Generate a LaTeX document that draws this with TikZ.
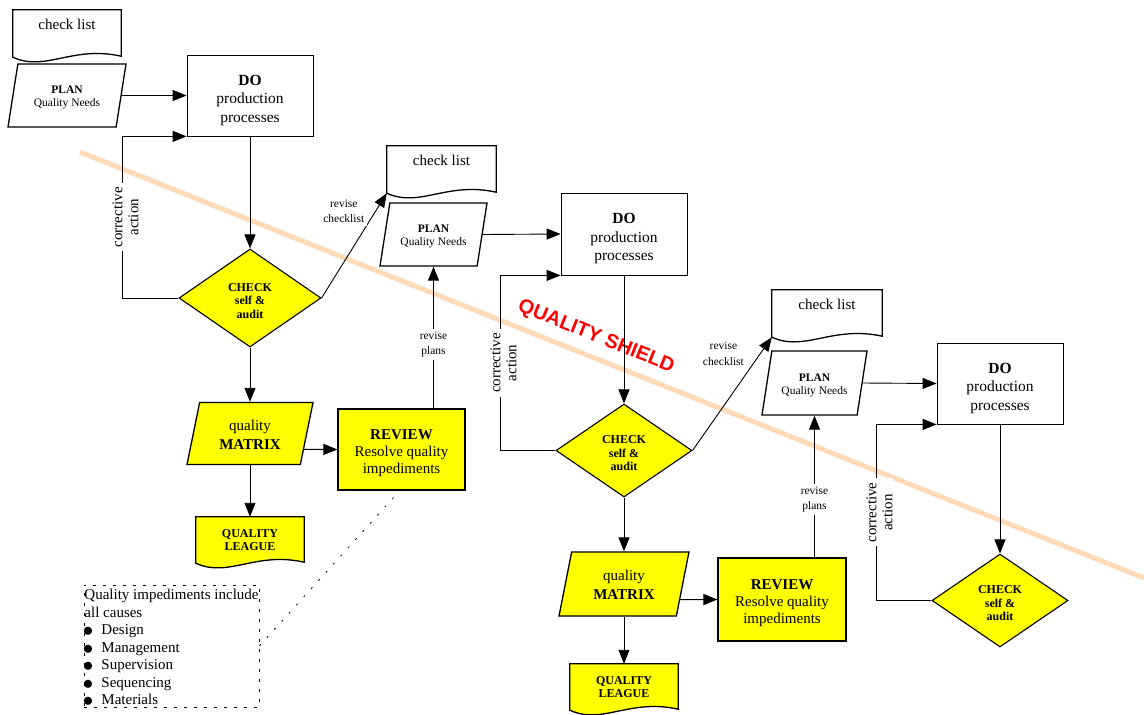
\documentclass[tikz,border=0pt]{standalone}
\usepackage{fontspec}
\setmainfont{Liberation Serif}
\newfontfamily\shieldfont{Liberation Sans}
\usepackage{graphicx}
\usetikzlibrary{arrows.meta, shapes.geometric, calc}
\definecolor{peachband}{RGB}{255,218,185}
\definecolor{qyellow}{RGB}{255,255,0}
\definecolor{shieldred}{RGB}{255,0,0}
\pgfdeclarelayer{bg}
\pgfsetlayers{bg,main}
% Dokument-Symbol (gewellter Rand) hinter Knoten #1
\newcommand\docshape[2]{%
  \begin{pgfonlayer}{bg}
    \draw[line width=1.3pt, fill=#2] (#1.north west) -- (#1.north east)
      -- ($(#1.south east)+(0,-6)$)
      .. controls ($(#1.south west)!0.55!(#1.south east)+(0,-17)$) and ($(#1.south west)!0.3!(#1.south east)+(0,10)$)
      .. ($(#1.south west)+(0,-5)$) -- cycle;
  \end{pgfonlayer}
  \coordinate (#1-tip) at ($(#1.south west)+(0,-5)$);}
\newcommand\qbul{\makebox[17pt][l]{\hspace{-1.5pt}\raisebox{-1.9pt}{\scalebox{1.45}{$\bullet$}}}}

\begin{document}
\begin{tikzpicture}[x=1pt, y=-1pt,
        >={Triangle[length=14pt,width=11pt]},   %Pfeilspitzen
        every node/.style={inner sep=0pt},
        conn/.style={->, line width=0.9pt},
        doc/.style={minimum width=108pt, minimum height=52pt, font=\fontsize{15}{17.5}\selectfont},
        listdoc/.style={doc, text depth=24pt},
        leaguedoc/.style={doc, minimum height=51pt, align=center, font=\bfseries\fontsize{12}{13}\selectfont, execute at end node={\rule[-4pt]{0pt}{4pt}}},
        dobox/.style={draw, line width=0.8pt, minimum width=126pt, minimum height=81pt, align=center, font=\fontsize{15.5}{18.5}\selectfont, execute at begin node={\rule{0pt}{57pt}}},
        revbox/.style={draw, fill=qyellow, line width=1.1pt, minimum width=128pt, minimum height=82pt, align=center, font=\fontsize{15}{17}\selectfont, execute at begin node={\rule{0pt}{50.9pt}}},
        planbox/.style={trapezium, trapezium left angle=70, trapezium right angle=110, trapezium stretches body, draw, fill=white, line width=1.3pt, minimum width=106pt, minimum height=63pt, align=center, font=\fontsize{11.5}{13}\selectfont, execute at begin node={\rule{0pt}{24.6pt}}},
        mtxbox/.style={planbox, trapezium left angle=68, trapezium right angle=112, fill=qyellow, minimum width=128pt, font=\fontsize{15}{19}\selectfont, execute at begin node={\rule{0pt}{31.3pt}}},
        chkbox/.style={diamond, draw, fill=qyellow, line width=1.1pt, minimum width=136pt, minimum height=93pt, align=center, font=\bfseries\fontsize{12}{13.5}\selectfont, execute at begin node={\rule{0pt}{40.9pt}}},
        lbl/.style={fill=white, inner sep=3pt, align=center, font=\fontsize{11.5}{15.5}\selectfont},
        corr/.style={fill=white, inner xsep=4pt, inner ysep=1pt, xshift=3pt, rotate=90, align=center, font=\fontsize{15}{16}\selectfont},
        notebox/.style={draw, line width=0.8pt, dash pattern=on 3pt off 7pt, minimum width=175pt, minimum height=122pt, align=left, font=\fontsize{15}{17.5}\selectfont, execute at begin node={\rule{0pt}{119.3pt}}}]
        \useasboundingbox (0,0) rectangle (1144,715);
        % Schild-Band
        \draw[peachband, line width=5pt] (80,152) -- (1144,578);
        \node[rotate=-22, text=shieldred, font=\shieldfont\bfseries\fontsize{20}{24}\selectfont] (shield) at (596,337) {QUALITY SHIELD};
        % erster Zyklus
        \node[listdoc] (cl1) at (67,36) {check list};
        \node[planbox, minimum width=118pt] (pl1) at (67,95.5) {\textbf{PLAN}\\Quality Needs};
        \node[dobox] (do1) at (250,95.5) {\textbf{DO}\\production\\processes};
        \node[chkbox, minimum width=142pt, minimum height=98pt] (chk1) at (250,298) {CHECK\\self \&\\audit};
        \node[mtxbox, minimum width=126pt, minimum height=62pt] (mx1) at (250,433.5) {quality\\\textbf{MATRIX}};
        \node[revbox, minimum width=127pt, minimum height=81pt] (rv1) at (401.5,449.5) {\textbf{REVIEW}\\Resolve quality\\impediments};
        \node[leaguedoc] (lg1) at (250,542.5) {QUALITY\\LEAGUE};
        \node[notebox] (note) at (171.5,646) {Quality impediments include\\all causes\\\qbul Design\\\qbul Management\\\qbul Supervision\\\qbul Sequencing\\\qbul Materials};
        % zweiter Zyklus
        \node[listdoc, minimum width=109pt] (cl2) at (441.5,172) {check list};
        \node[planbox, minimum width=107pt] (pl2) at (433.5,234.5) {\textbf{PLAN}\\Quality Needs};
        \node[dobox, minimum height=82pt] (do2) at (624,234) {\textbf{DO}\\production\\processes};
        \node[chkbox] (chk2) at (624,450.5) {CHECK\\self \&\\audit};
        \node[mtxbox, minimum width=130pt, minimum height=64pt] (mx2) at (624,584) {quality\\\textbf{MATRIX}};
        \node[revbox, minimum height=83pt] (rv2) at (782,599.5) {\textbf{REVIEW}\\Resolve quality\\impediments};
        \node[leaguedoc] (lg2) at (624,689.5) {QUALITY\\LEAGUE};
        % dritter Zyklus
        \node[listdoc, minimum width=110pt] (cl3) at (827,316) {check list};
        \node[planbox, minimum width=105pt, minimum height=64pt] (pl3) at (814.5,383) {\textbf{PLAN}\\Quality Needs};
        \node[dobox] (do3) at (1000,383.5) {\textbf{DO}\\production\\processes};
        \node[chkbox] (chk3) at (1000,600.5) {CHECK\\self \&\\audit};
        \docshape{cl1}{white}
        \docshape{cl2}{white}
        \docshape{cl3}{white}
        \docshape{lg1}{qyellow}
        \docshape{lg2}{qyellow}
        % Verbindungen
        \draw[conn] (pl1.right side) -- (do1.west);
        \draw[conn] (do1.south) -- (chk1.north);
        \draw[conn] (chk1.west) -- ++(-56,0) |- node[corr, pos=0.25] {corrective\\action} (do1.south west);
        \draw[conn] (chk1.east) -- node[lbl, pos=0.83, left=8pt] {revise\\checklist} (cl2-tip);
        \draw[conn] (chk1.south) -- (mx1.center |- mx1.north);
        \draw[conn] (mx1.center |- mx1.south) -- (lg1.north);
        \draw[conn] ($(mx1.top right corner)!0.75!(mx1.bottom right corner)$) -- (rv1.west);
        \draw[conn] (pl2.center |- rv1.north) -- node[lbl, pos=0.45] {revise\\plans} (pl2.center |- pl2.south);
        \coordinate (rv1-foot) at ($(rv1.south)+(-8,7)$);
        \draw[line width=0.8pt, dash pattern=on 2pt off 9pt] (rv1-foot) -- (note.east);
        \draw[conn] (pl2.right side) -- (do2.west);
        \draw[conn] (do2.south) -- (chk2.north);
        \draw[conn] (chk2.west) -- ++(-55,0) |- node[corr, pos=0.25] {corrective\\action} (do2.south west);
        \draw[conn] (chk2.east) -- node[lbl, pos=0.855, left=13pt] {revise\\checklist} (cl3-tip);
        \draw[conn] (chk2.south) -- (mx2.center |- mx2.north);
        \draw[conn] (mx2.center |- mx2.south) -- (lg2.north);
        \draw[conn] ($(mx2.top right corner)!0.74!(mx2.bottom right corner)$) -- (rv2.west);
        \draw[conn] (pl3.center |- rv2.north) -- node[lbl, pos=0.41] {revise\\plans} (pl3.center |- pl3.south);
        \draw[conn] (pl3.right side) -- (do3.west);
        \draw[conn] (do3.south) -- (chk3.north);
        \draw[conn] (chk3.west) -- ++(-55,0) |- node[corr, pos=0.25] {corrective\\action} (do3.south west);
    \end{tikzpicture}
\end{document}
